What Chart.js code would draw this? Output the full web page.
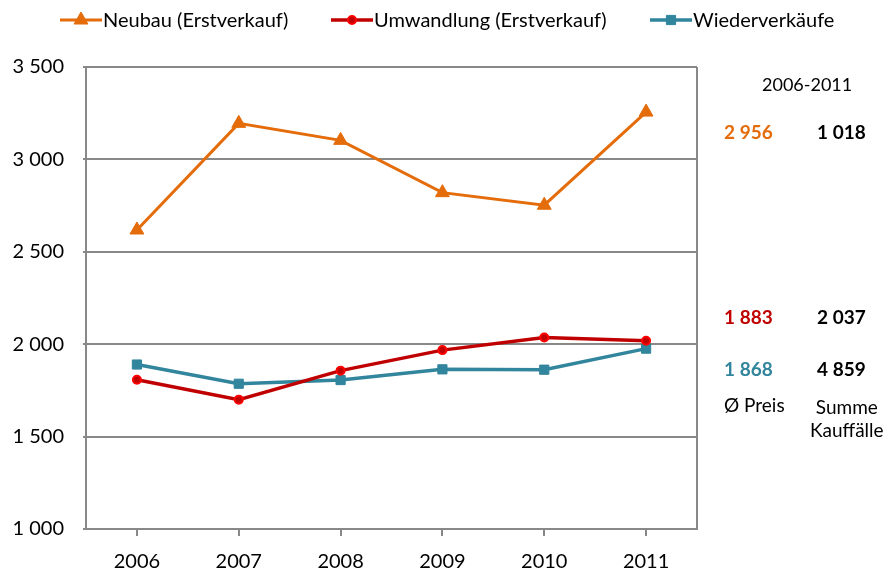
<!DOCTYPE html>
<html>
<head>
<meta charset="utf-8">
<script src="https://cdn.jsdelivr.net/npm/chart.js@4/dist/chart.umd.min.js"></script>
<style>
  body { margin: 0; background: #fff; }
  #wrap { position: relative; width: 891px; height: 571px; font-family: Lato, "Open Sans", sans-serif; }
  #wrap canvas { position: absolute; left: 0; top: 0; }
  .note { position: absolute; font-size: 19px; line-height: 20px; white-space: nowrap; color: #000; }
  .b { font-weight: bold; }
</style>
</head>
<body>
<div id="wrap">
  <canvas id="chart" width="891" height="571"></canvas>
  <div id="notes"></div>
</div>
<script>
// values
const years = ['2006', '2007', '2008', '2009', '2010', '2011'];
const neubau = [2618, 3195, 3103, 2820, 2752, 3256];
const umwandlung = [1808, 1700, 1857, 1968, 2036, 2019];
const wiederverkauf = [1890, 1786, 1806, 1864, 1862, 1976];

const seriesNames = ['Neubau (Erstverkauf)', 'Umwandlung (Erstverkauf)', 'Wiederverkäufe'];
const seriesColors = ['#E46C0A', '#C00000', '#31859C'];

// 2006-2011 summary on the right
const avgPrice = ['2 956', '1 883', '1 868'];
const salesTotal = ['1 018', '2 037', '4 859'];

const fmt = v => String(v).replace(/\B(?=(\d{3})+(?!\d))/g, ' ');
const font = 'Lato, "Open Sans", sans-serif';

// right border of the plot area
const framePlugin = {
    id: 'frame',
    beforeDatasetsDraw(chart) {
        const { ctx, chartArea: a } = chart;
        ctx.save();
        ctx.strokeStyle = '#888';
        ctx.lineWidth = 2;
        ctx.beginPath();
        ctx.moveTo(a.right, a.top);
        ctx.lineTo(a.right, a.bottom);
        ctx.stroke();
        ctx.restore();
    }
};

// legend like excel: line with marker, then label
const legendX = [60, 331, 650];
const legendPlugin = {
    id: 'lineLegend',
    afterDraw(chart) {
        const ctx = chart.ctx;
        const y = 20;
        ctx.save();
        chart.data.datasets.forEach((ds, i) => {
            const x = legendX[i];
            ctx.strokeStyle = ds.borderColor;
            ctx.lineWidth = ds.borderWidth;
            ctx.beginPath();
            ctx.moveTo(x, y);
            ctx.lineTo(x + 42, y);
            ctx.stroke();
            ctx.fillStyle = ds.pointBackgroundColor;
            ctx.strokeStyle = ds.pointBorderColor;
            ctx.lineWidth = ds.pointBorderWidth;
            Chart.helpers.drawPoint(ctx, {
                pointStyle: ds.pointStyle,
                radius: ds.pointRadius,
                borderWidth: ds.pointBorderWidth
            }, x + 21, y);
            ctx.fillStyle = '#000';
            ctx.font = '20px ' + font;
            ctx.textBaseline = 'middle';
            ctx.fillText(ds.label, x + 43, y + 1);
        });
        ctx.restore();
    }
};

new Chart(document.getElementById('chart'), {
    type: 'line',
    data: {
        labels: years,
        datasets: [{
            label: seriesNames[0],
            data: neubau,
            borderColor: seriesColors[0],
            backgroundColor: seriesColors[0],
            borderWidth: 3,
            pointStyle: 'triangle',
            pointRadius: 8,
            pointBackgroundColor: seriesColors[0],
            pointBorderColor: seriesColors[0],
            pointBorderWidth: 1
        }, {
            label: seriesNames[1],
            data: umwandlung,
            borderColor: seriesColors[1],
            backgroundColor: '#FF0000',
            borderWidth: 3.5,
            pointStyle: 'circle',
            pointRadius: 4,
            pointBackgroundColor: '#C00000',
            pointBorderColor: '#FF0000',
            pointBorderWidth: 2
        }, {
            label: seriesNames[2],
            data: wiederverkauf,
            borderColor: seriesColors[2],
            backgroundColor: seriesColors[2],
            borderWidth: 3.5,
            pointStyle: 'rect',
            pointRadius: 6.5,
            pointBackgroundColor: seriesColors[2],
            pointBorderColor: seriesColors[2],
            pointBorderWidth: 1
        }]
    },
    options: {
        responsive: false,
        animation: false,
        layout: { padding: { top: 67, right: 194, left: 0, bottom: 0 } },
        plugins: {
            legend: { display: false },
            tooltip: { enabled: false }
        },
        elements: { line: { tension: 0 } },
        scales: {
            x: {
                offset: true,
                afterFit: s => { s.height = 42; },
                grid: { offset: false, drawOnChartArea: false, color: '#888', lineWidth: 2, tickLength: 7 },
                border: { color: '#888', width: 2 },
                ticks: { color: '#000', padding: 14, font: { family: font, size: 20 } }
            },
            y: {
                min: 1000,
                max: 3500,
                afterFit: s => { s.width = 86; },
                grid: { color: '#888', lineWidth: 2, tickLength: 3 },
                border: { color: '#888', width: 2 },
                ticks: {
                    stepSize: 500,
                    color: '#000',
                    padding: 19,
                    font: { family: font, size: 20 },
                    callback: v => fmt(v)
                }
            }
        }
    },
    plugins: [framePlugin, legendPlugin]
});

// right hand summary as real text
const notes = document.getElementById('notes');
function note(text, left, top, cls, color) {
    const d = document.createElement('div');
    d.className = 'note ' + (cls || '');
    d.textContent = text;
    d.style.left = left + 'px';
    d.style.top = top + 'px';
    if (color) d.style.color = color;
    notes.appendChild(d);
    return d;
}
note('2006-2011', 762, 74).style.fontSize = '18px';
const rowsY = [122, 307, 359];
avgPrice.forEach((p, i) => {
    note(p, 724, rowsY[i], 'b', seriesColors[i]);
    note(salesTotal[i], 817, rowsY[i], 'b');
});
note('Ø Preis', 724, 395);
const s = note('Summe\nKauffälle', 810, 395);
s.style.whiteSpace = 'pre';
s.style.textAlign = 'center';
s.style.lineHeight = '23px';
</script>
</body>
</html>
